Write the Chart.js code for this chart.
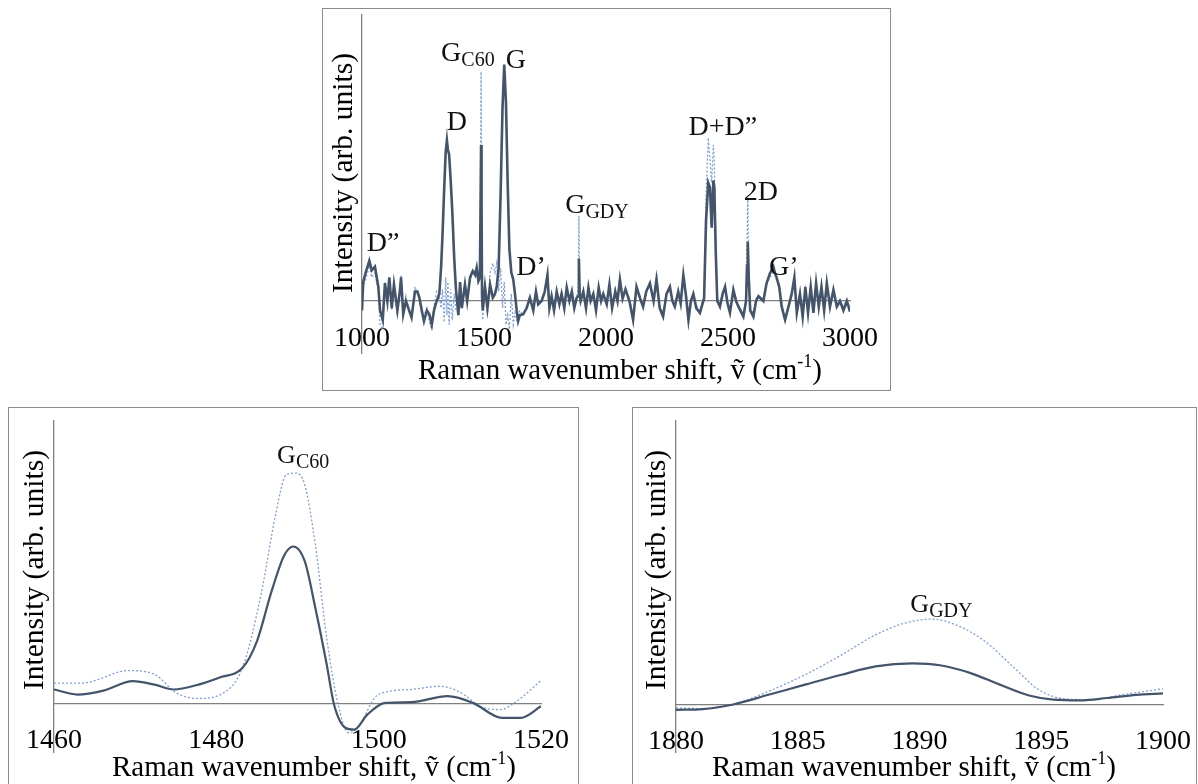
<!DOCTYPE html>
<html>
<head>
<meta charset="utf-8">
<title>Raman spectra</title>
<script src="https://cdn.jsdelivr.net/npm/chart.js@4.4.1/dist/chart.umd.min.js"></script>
<style>
  html, body { margin:0; padding:0; background:#fff; width:1198px; height:784px; overflow:hidden; position:relative; }
  .panel { position:absolute; border:1px solid #8c8c8c; box-sizing:border-box; }
  canvas { position:absolute; }
</style>
</head>
<body>
<div class="panel" style="left:322px; top:8px; width:569px; height:383px;"></div>
<div class="panel" style="left:8px; top:407px; width:571px; height:400px;"></div>
<div class="panel" style="left:632px; top:407px; width:565px; height:400px;"></div>
<canvas id="chartTop" width="608" height="382" style="left:302px; top:8px;"></canvas>
<canvas id="chartC60" width="600" height="377" style="left:0px; top:407px;"></canvas>
<canvas id="chartGdy" width="600" height="377" style="left:620px; top:407px;"></canvas>
<script>
const FONT = "'Liberation Serif', 'Times New Roman', 'DejaVu Serif', serif";
Chart.defaults.font.family = FONT;
Chart.defaults.color = '#000';

// Full range spectrum (solid = sample, dotted = reference)
const topShift = [
  1000,1005,1015,1030,1040,1053,1067,1074,1085,1094,
  1104,1112,1122,1131,1145,1155,1160,1169,1180,1190,
  1203,1217,1227,1235,1245,1254,1266,1276,1286,1295,
  1306,1317,1324,1330,1337,1343,1348,1352,1357,1363,
  1370,1378,1385,1395,1402,1409,1422,1431,1443,1454,
  1464,1470,1477,1483,1486,1488,1490,1492,1495,1504,
  1514,1525,1536,1545,1552,1560,1568,1576,1583,1590,
  1597,1604,1612,1620,1627,1634,1640,1647,1661,1675,
  1688,1702,1713,1722,1736,1749,1760,1768,1777,1787,
  1798,1809,1818,1829,1839,1850,1860,1870,1880,1886,
  1889,1892,1896,1907,1918,1928,1937,1948,1959,1970,
  1980,1989,2003,2014,2025,2038,2047,2057,2068,2080,
  2096,2111,2125,2140,2152,2165,2180,2195,2207,2220,
  2234,2248,2262,2272,2282,2296,2306,2317,2328,2338,
  2348,2358,2370,2385,2396,2402,2410,2419,2426,2433,
  2440,2444,2450,2456,2467,2478,2488,2498,2508,2522,
  2533,2543,2563,2574,2578,2581,2585,2591,2604,2615,
  2625,2645,2658,2672,2686,2692,2699,2710,2720,2734,
  2748,2761,2772,2782,2795,2806,2817,2828,2839,2850,
  2861,2872,2883,2894,2905,2918,2932,2946,2959,2973,
  2987,3000
];
const topSolid = [
  -4,8,12,17,13,14.5,6,-4,-8,7.6,
  0,10,-3,7,-4,4,10,-5.6,0,-3,
  -7,4,4,1.4,-4,-8.5,-4,-5.6,-10,-4,
  0,3,14,28,48,63,68,64,62,52,
  38,18,5,-6,8,-3,7,0,10,12.7,
  11,14,8.5,10,40,66,40,2,-4,6,
  -3,7,1.4,3,6,14,45,82,100,84,
  50,22,12,9,3,-4,-8.5,-6,-5.6,-3,
  1.4,-4,4,-1.4,0,4,11,-3,2,-4,
  4,-1.4,3,-3,5.7,0,4,-3,1.4,2,
  18,3,0,4,-3,5.7,0,3,-4,5.7,
  0,3,-1.4,7,-3,4,0,9,1,5,
  0,-8,6,1,-2.4,4,7.5,0,9,-3,
  -6.6,3,6,0,-2.4,4,-1,11,2,-8,
  0,3,-3,-5,-1,1,34,50,48,31,
  51,48,20,0,-2.4,3,6,-1,-5,4.7,
  0,-2.4,-6.6,0,15,25,10,-4,-6.6,0,
  2,0,7.5,11.7,14.5,12,10,6,-2.4,-8,
  -2.4,3,10,-5,3,-6.6,6,-5,6,-5,
  7.5,-2.4,6,-4,7.5,-2.4,4.7,-2.4,0,-4,
  0,-4.5
];
const topDotted = [
  -3,6,9,15,10,12,4,-10,-12,6,
  1,8,-4,6,-6,5,11,-4,2,-4,
  -6,6,3,2,-6,-6,-3,-9,-12,-2,
  4,2,-3,5,-9,10,-6,8,-10,5,
  -8,3,-4,-5,6,-2,8,2,9,12,
  13,12,10,12,60,97,60,4,-8,8,
  -6,12,16,12,16,4,14,-3,8,-10,
  -6,-12,3,-10,-5,-8,-6,-4,-6,-2,
  2,-3,5,-2,1,3,12,-2,3,-5,
  3,0,4,-2,5,1,3,-2,2,5,
  36,6,1,4,-2,5,1,3,-3,6,
  1,3,-1,6,-2,5,0,11,2,4,
  1,-6,5,2,-2,5,6,1,12,-2,
  -5,3,5,1,-2,4,0,10,3,-7,
  1,3,-2,-4,0,2,45,69,60,50,
  66,58,25,2,-2,4,5,0,-4,5,
  1,-2,-5,1,25,43,15,-3,-5,1,
  2,1,7,10,12,11,9,5,-1,-7,
  -2,3,9,-4,3,-5,5,-4,5,-4,
  6,-2,5,-3,6,-2,4,-2,1,-3,
  1,-4
];

// Zoom on the G(C60) band
const c60SolidShift = [1460,1462.9,1466.1,1469.7,1472.4,1474.7,1477.8,1480.5,1483.2,1485,1486.8,1488.4,1489.5,1490.9,1492.2,1493.6,1494.5,1495.9,1497,1498.6,1500.8,1504,1508.5,1511.6,1515.2,1517.5,1520];
const c60Solid      = [6.1,3.9,5.6,9.7,8.2,6.1,8.2,11.4,15.4,27,48.6,64.5,68.1,61.6,41.4,16.9,-0.4,-10.5,-11.3,-4.8,0.3,0.6,3.2,0.3,-6.2,-6.2,-1.2];
const c60DottedShift = [1460,1463.4,1469.2,1472.4,1475.1,1477.8,1480.5,1483.2,1485.5,1487.3,1488.6,1489.8,1490.9,1492.2,1493.6,1495,1496.3,1497.7,1499.5,1501.3,1504,1507.6,1509.8,1513,1515,1517,1520];
const c60Dotted      = [8.9,8.9,14.3,12.6,4.6,2.2,3.9,15.4,47.2,81.8,99.1,99.9,94.8,68.8,28.4,-0.4,-12.7,-9.1,2.5,5.3,6.1,7.5,5.3,-1.9,-2.6,1,10];

// Zoom on the G(GDY) band
const gdySolidShift = [1880,1881.1,1882.3,1883.8,1885.3,1886.8,1888.2,1889.7,1890.9,1892.1,1893.3,1894.5,1895.5,1896.6,1897.7,1898.9,1900];
const gdySolid      = [-2.2,-1.9,0,4.3,8.7,13,16.6,17.9,17,13.7,8.7,4,2.2,1.9,2.9,4.3,4.9];
const gdyDottedShift = [1880,1881.1,1882.3,1883.8,1885.3,1886.8,1888.2,1889.4,1890.5,1891.5,1892.7,1893.9,1894.9,1896,1897.1,1898.3,1900];
const gdyDotted      = [-1.4,-1.7,0,5.8,13,21.6,30.3,35.4,37.1,34.6,27.4,15.9,6.5,2.5,2.2,4.3,6.9];

// Band labels, anchored at (shift, intensity) of the text baseline
const topPeaks = [
  { text:'D\u201D', x:1086, y:21 },
  { text:'D', x:1389, y:72.5 },
  { text:'G', sub:'C60', x:1434, y:101.7 },
  { text:'G', x:1631, y:98.7 },
  { text:'D\u2019', x:1693, y:11 },
  { text:'G', sub:'GDY', x:1963, y:37.3 },
  { text:'D+D\u201D', x:2479, y:70.3 },
  { text:'2D', x:2635, y:42.8 },
  { text:'G\u2019', x:2729, y:11 }
];
const c60Peaks = [ { text:'G', sub:'C60', x:1490.7, y:104.3 } ];
const gdyPeaks = [ { text:'G', sub:'GDY', x:1890.9, y:40.3 } ];

// Axis titles; the x title has a superscript part
const xTitle = [ { t:'Raman wavenumber shift, \u1E7D (cm' }, { t:'-1', sup:true }, { t:')' } ];
const yTitle = 'Intensity (arb. units)';

function toPoints(xs, ys) {
  return xs.map((v, i) => ({ x: v, y: ys[i] }));
}

// Draws the band names, with an optional subscript
const peakLabels = {
  id: 'peakLabels',
  afterDatasetsDraw(chart, args, opts) {
    const { ctx, scales: { x, y } } = chart;
    const mainFont = opts.size + 'px ' + FONT, subFont = opts.subSize + 'px ' + FONT;
    ctx.save();
    ctx.fillStyle = '#111';
    ctx.textAlign = 'left';
    ctx.textBaseline = 'alphabetic';
    (opts.items || []).forEach(p => {
      ctx.font = mainFont;
      const w1 = ctx.measureText(p.text).width;
      let w2 = 0;
      if (p.sub) { ctx.font = subFont; w2 = ctx.measureText(p.sub).width; }
      const left = x.getPixelForValue(p.x) - (w1 + w2) / 2;
      const base = y.getPixelForValue(p.y);
      ctx.font = mainFont;
      ctx.fillText(p.text, left, base);
      if (p.sub) { ctx.font = subFont; ctx.fillText(p.sub, left + w1, base + 5); }
    });
    ctx.restore();
  }
};

// Axis titles placed relative to the plot area (Excel-like offsets)
const axisTitles = {
  id: 'axisTitles',
  afterDraw(chart, args, opts) {
    const { ctx, chartArea: { left, right, top, bottom } } = chart;
    ctx.save();
    ctx.fillStyle = '#000';
    ctx.textBaseline = 'middle';
    // x title, drawn piece by piece for the superscript
    const big = '29px ' + FONT, small = '18px ' + FONT;
    let total = 0;
    xTitle.forEach(p => { ctx.font = p.sup ? small : big; total += ctx.measureText(p.t).width; });
    let cx = (left + right) / 2 + opts.xShift - total / 2;
    const cy = bottom + opts.xDrop;
    ctx.textAlign = 'left';
    xTitle.forEach(p => {
      ctx.font = p.sup ? small : big;
      ctx.fillText(p.t, cx, p.sup ? cy - 9 : cy);
      cx += ctx.measureText(p.t).width;
    });
    // y title, rotated
    ctx.font = '29.5px ' + FONT;
    ctx.textAlign = 'center';
    ctx.translate(left - opts.yGap, (top + bottom) / 2 + opts.yShift);
    ctx.rotate(-Math.PI / 2);
    ctx.fillText(yTitle, 0, 0);
    ctx.restore();
  }
};

function makeChart(id, cfg) {
  const smooth = cfg.smooth;
  return new Chart(document.getElementById(id), {
    type: 'line',
    data: { datasets: [
      { data: cfg.solid, borderColor:'#44546a', borderWidth: cfg.solidWidth, pointRadius:0,
        tension: smooth ? 0.4 : 0, cubicInterpolationMode: smooth ? 'monotone' : 'default', order:0 },
      { data: cfg.dotted, borderColor:'#7f9fd8', borderWidth:1.3, borderDash:[2,2], pointRadius:0,
        tension: smooth ? 0.4 : 0, cubicInterpolationMode: smooth ? 'monotone' : 'default', order:1 }
    ] },
    plugins: [peakLabels, axisTitles],
    options: {
      responsive:false,
      animation:false,
      devicePixelRatio:1,
      layout:{ padding: cfg.padding },
      plugins:{
        legend:{ display:false },
        tooltip:{ enabled:false },
        peakLabels:{ items: cfg.peaks, size: cfg.labelSize, subSize: cfg.subSize },
        axisTitles: cfg.titles
      },
      scales:{
        x:{
          type:'linear', min: cfg.xMin, max: cfg.xMax, position:{ y:0 },
          grid:{ display:false, drawTicks:false },
          border:{ display:true, color:'#7f7f7f', width:1.3 },
          ticks:{ stepSize: cfg.step, autoSkip:false, maxRotation:0, padding: cfg.tickPad,
            font:{ size:28 }, color:'#000', callback: v => String(v) }
        },
        y:{
          min: cfg.yMin, max: cfg.yMax,
          grid:{ display:false, drawTicks:false },
          border:{ display:true, color:'#7f7f7f', width:1.3 },
          ticks:{ display:false },
          afterFit(scale) { scale.width = 0; }
        }
      }
    }
  });
}

makeChart('chartTop', {
  solid: toPoints(topShift, topSolid), dotted: toPoints(topShift, topDotted),
  solidWidth:2.6, smooth:false, peaks: topPeaks, labelSize:28, subSize:20,
  xMin:1000, xMax:3000, step:500, yMin:-22, yMax:121,
  padding:{ left:60, right:60, top:7, bottom:37 }, tickPad:21,
  titles:{ xShift:14, xDrop:18, yGap:18, yShift:-11 }
});

makeChart('chartC60', {
  solid: toPoints(c60SolidShift, c60Solid), dotted: toPoints(c60DottedShift, c60Dotted),
  solidWidth:2.2, smooth:true, peaks: c60Peaks, labelSize:26, subSize:20,
  xMin:1460, xMax:1520, step:20, yMin:-21, yMax:122.5,
  padding:{ left:54, right:59, top:14, bottom:32 }, tickPad:20,
  titles:{ xShift:16.5, xDrop:16, yGap:19, yShift:-16.5 }
});

makeChart('chartGdy', {
  solid: toPoints(gdySolidShift, gdySolid), dotted: toPoints(gdyDottedShift, gdyDotted),
  solidWidth:2.2, smooth:true, peaks: gdyPeaks, labelSize:26, subSize:20,
  xMin:1880, xMax:1900, step:5, yMin:-20.5, yMax:123,
  padding:{ left:56, right:57, top:14, bottom:32 }, tickPad:20,
  titles:{ xShift:-5.5, xDrop:16, yGap:19, yShift:-16.5 }
});
</script>
</body>
</html>
